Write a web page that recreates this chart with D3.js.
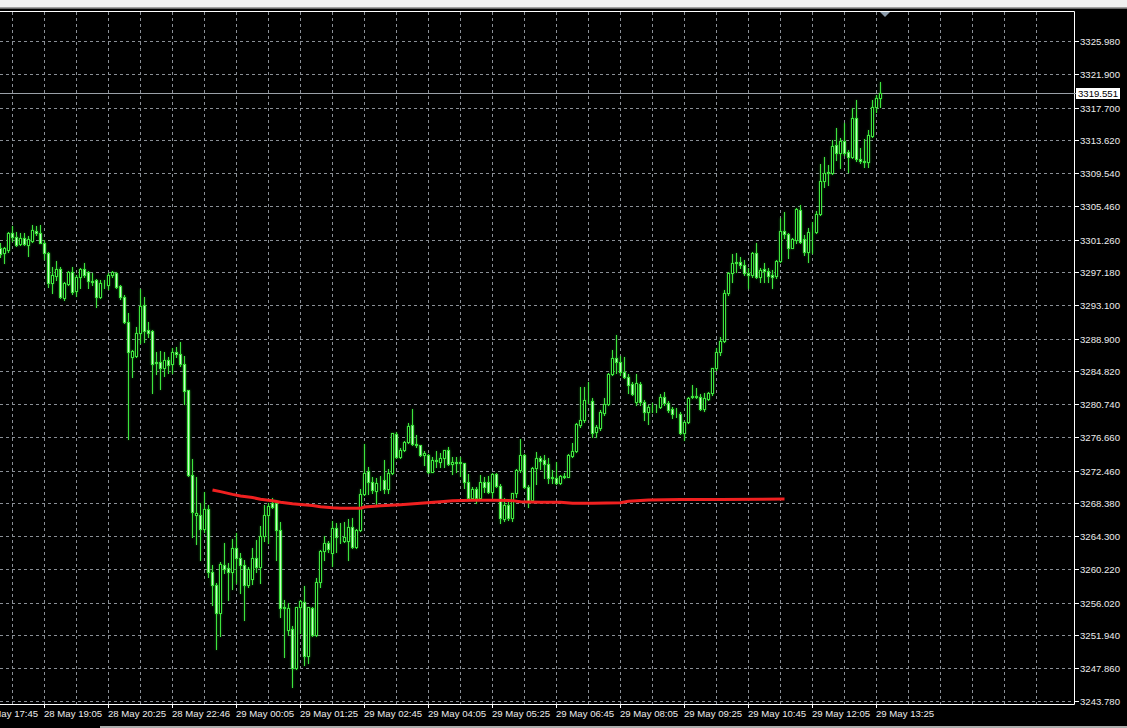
<!DOCTYPE html>
<html><head><meta charset="utf-8">
<script src="https://cdn.jsdelivr.net/npm/d3@7"></script>
<style>html,body{margin:0;padding:0;background:#000;overflow:hidden}svg{display:block}</style>
</head><body><svg id="c" width="1127" height="728"></svg>
<script>
// ---- DATA (XAU M5 bars) ----
const opens=[3300.17,3299.55,3299.96,3302.12,3301.54,3300.71,3301.41,3300.58,3301.12,3302.33,3302.04,3300.87,3299.55,3295.81,3296.72,3297.55,3293.94,3295.68,3297.18,3294.89,3296.55,3297.55,3297.18,3295.97,3296.22,3294.14,3295.81,3295.60,3296.84,3297.13,3295.47,3294.14,3290.94,3286.58,3286.79,3289.57,3293.10,3289.99,3289.87,3285.83,3285.96,3285.21,3286.25,3285.75,3287.20,3286.96,3285.75,3282.51,3271.92,3266.93,3266.93,3265.14,3267.64,3259.87,3258.20,3254.75,3260.70,3260.28,3259.87,3262.86,3261.53,3260.70,3258.20,3258.91,3261.53,3260.41,3264.31,3266.93,3268.38,3268.38,3265.06,3255.30,3252.59,3252.68,3247.82,3255.50,3256.12,3249.35,3255.30,3251.97,3258.54,3262.44,3263.48,3262.23,3265.27,3264.23,3263.73,3263.73,3265.39,3262.90,3265.06,3269.51,3272.46,3271.08,3269.96,3271.00,3271.29,3270.13,3272.21,3277.03,3274.20,3275.03,3275.99,3278.15,3275.78,3275.61,3274.41,3274.41,3272.33,3273.79,3273.58,3274.08,3275.03,3273.29,3273.58,3273.37,3273.37,3271.00,3269.01,3270.17,3269.01,3271.08,3271.08,3269.76,3272.04,3270.59,3266.43,3268.18,3266.51,3269.63,3272.54,3274.41,3270.38,3268.80,3272.75,3273.99,3273.79,3273.29,3271.50,3271.50,3270.96,3271.79,3271.71,3274.28,3274.91,3278.15,3278.78,3281.23,3281.14,3277.24,3277.74,3279.61,3280.73,3284.47,3286.55,3285.96,3284.80,3284.18,3283.22,3280.98,3283.22,3280.98,3279.73,3280.36,3280.40,3280.36,3281.68,3280.85,3280.15,3279.48,3279.48,3277.11,3278.57,3281.68,3281.81,3281.68,3280.15,3281.39,3282.10,3285.22,3287.21,3288.62,3294.56,3297.06,3298.51,3298.51,3298.10,3297.06,3296.85,3299.55,3296.64,3297.55,3297.39,3296.85,3296.73,3298.59,3302.34,3301.92,3300.26,3301.21,3304.95,3301.34,3299.68,3302.17,3302.17,3304.41,3308.57,3309.52,3309.52,3313.05,3312.02,3313.55,3312.22,3311.60,3316.46,3311.31,3311.06,3310.89,3314.22,3317.75,3318.95];
const highs=[3300.79,3300.38,3302.25,3302.95,3302.25,3302.04,3302.04,3301.71,3303.08,3302.95,3303.08,3301.21,3299.75,3297.88,3298.59,3297.88,3296.01,3297.38,3297.88,3296.84,3297.68,3298.38,3297.38,3297.05,3296.30,3296.22,3296.22,3297.05,3297.38,3297.26,3295.60,3294.35,3292.07,3287.50,3290.40,3295.06,3294.06,3291.03,3289.99,3287.29,3287.37,3287.29,3286.58,3287.70,3287.91,3288.45,3286.75,3282.51,3273.87,3271.71,3268.38,3269.84,3268.18,3260.70,3258.41,3261.11,3263.40,3260.99,3263.90,3264.73,3262.15,3261.32,3260.49,3262.77,3263.81,3265.56,3268.18,3268.47,3269.01,3268.80,3266.10,3256.33,3255.92,3253.09,3255.50,3256.33,3258.08,3255.50,3255.50,3259.04,3262.57,3264.35,3263.73,3266.22,3265.97,3265.97,3266.02,3266.39,3266.51,3265.14,3270.13,3275.78,3272.95,3271.62,3271.50,3271.79,3273.79,3272.62,3277.19,3277.32,3275.24,3276.11,3278.44,3280.10,3276.90,3275.66,3274.95,3274.53,3274.20,3274.95,3274.70,3275.03,3275.36,3274.20,3274.20,3274.20,3273.45,3272.00,3270.46,3270.46,3271.92,3271.71,3271.83,3272.21,3272.12,3270.79,3269.01,3268.80,3269.71,3272.62,3276.40,3274.53,3270.67,3272.95,3274.82,3274.28,3274.41,3273.99,3272.54,3273.58,3271.92,3272.12,3274.53,3275.95,3278.36,3282.93,3282.93,3283.55,3281.48,3278.15,3280.02,3281.56,3284.59,3287.50,3289.37,3286.76,3286.67,3284.47,3283.47,3284.51,3283.55,3281.27,3280.65,3280.85,3280.65,3281.98,3282.22,3281.14,3280.44,3280.23,3279.73,3278.69,3281.68,3283.14,3282.72,3281.98,3282.10,3282.31,3285.30,3287.71,3289.16,3294.98,3297.27,3299.43,3299.55,3299.13,3298.72,3297.68,3299.76,3300.80,3297.68,3298.30,3297.76,3297.47,3298.72,3303.91,3304.75,3302.04,3301.42,3305.24,3305.58,3301.84,3302.67,3303.50,3304.83,3310.65,3311.60,3310.56,3313.68,3315.13,3313.89,3315.76,3312.43,3317.71,3318.66,3312.72,3313.80,3314.92,3318.66,3319.29,3320.87];
const lows=[3299.13,3298.38,3299.75,3301.12,3300.46,3300.58,3300.58,3299.21,3301.00,3301.83,3300.79,3298.80,3295.39,3294.64,3296.22,3293.94,3293.73,3295.60,3294.48,3294.23,3295.18,3296.55,3295.18,3295.60,3292.81,3293.94,3295.18,3295.06,3296.64,3295.27,3293.81,3290.82,3276.36,3284.09,3286.58,3288.41,3288.54,3289.16,3282.10,3284.50,3282.59,3284.25,3284.59,3284.59,3286.58,3285.50,3280.72,3271.79,3264.14,3263.31,3261.32,3264.85,3259.16,3255.71,3250.19,3251.85,3259.66,3256.33,3257.66,3258.41,3257.25,3253.84,3257.99,3258.33,3259.87,3258.41,3263.73,3263.48,3267.76,3261.32,3254.26,3249.19,3251.97,3245.45,3247.69,3252.18,3248.23,3248.44,3251.85,3251.85,3257.99,3261.32,3262.36,3260.57,3262.32,3263.40,3263.61,3261.32,3262.78,3262.78,3264.94,3269.42,3269.55,3269.63,3268.18,3270.05,3269.63,3269.63,3272.04,3273.99,3273.99,3274.95,3275.86,3275.66,3275.36,3274.28,3273.16,3272.21,3272.25,3272.95,3272.95,3272.95,3273.16,3272.04,3272.33,3271.83,3270.25,3268.80,3268.80,3268.38,3268.80,3269.84,3269.63,3269.21,3270.46,3265.97,3266.22,3266.30,3266.22,3269.21,3272.33,3270.25,3267.97,3268.72,3270.79,3272.62,3271.50,3270.88,3270.88,3270.79,3270.79,3271.50,3271.62,3274.20,3274.82,3277.94,3278.57,3280.85,3276.70,3276.70,3277.53,3279.40,3280.65,3284.38,3284.59,3284.38,3283.97,3282.10,3281.89,3280.65,3280.65,3278.78,3278.24,3279.73,3279.81,3280.23,3280.65,3279.73,3279.07,3279.19,3276.99,3276.28,3278.36,3281.48,3281.56,3280.02,3279.90,3281.27,3281.89,3285.01,3286.88,3288.54,3294.36,3296.02,3297.27,3297.68,3296.85,3295.19,3296.64,3296.43,3296.02,3296.02,3296.02,3295.19,3296.43,3298.51,3301.42,3299.01,3300.17,3300.80,3300.88,3299.34,3298.51,3299.55,3302.04,3304.33,3307.86,3308.07,3309.40,3311.19,3310.15,3311.81,3309.73,3311.39,3311.06,3310.77,3310.35,3310.35,3314.09,3317.21,3317.83];
const closes=[3299.46,3300.17,3302.04,3301.62,3300.58,3301.41,3300.71,3301.29,3302.45,3302.04,3300.87,3299.55,3295.81,3296.84,3297.55,3294.06,3295.81,3297.18,3294.77,3296.64,3297.55,3296.84,3296.14,3296.10,3294.06,3295.81,3295.89,3296.84,3297.18,3295.39,3294.06,3290.94,3287.29,3287.37,3289.57,3292.98,3289.91,3289.66,3285.71,3285.96,3285.21,3286.25,3285.63,3287.20,3286.96,3285.71,3282.43,3271.92,3267.26,3267.22,3265.14,3267.68,3259.87,3258.20,3254.67,3260.82,3260.16,3259.87,3262.77,3261.53,3260.70,3258.20,3260.16,3261.53,3260.41,3264.31,3266.93,3268.05,3267.97,3265.06,3255.30,3255.50,3255.38,3247.82,3255.42,3256.25,3249.35,3255.42,3251.97,3258.54,3262.44,3263.48,3262.65,3265.27,3264.23,3264.15,3264.23,3265.39,3262.90,3265.06,3269.51,3272.21,3271.08,3270.05,3270.96,3271.08,3270.13,3272.21,3277.11,3274.20,3275.03,3275.99,3278.02,3275.78,3275.61,3274.41,3274.62,3272.33,3273.79,3273.70,3274.08,3275.03,3273.29,3273.54,3273.37,3273.54,3271.00,3269.01,3270.17,3269.01,3271.08,3270.46,3269.84,3272.04,3270.59,3266.51,3268.18,3266.51,3269.63,3272.54,3274.41,3270.38,3268.72,3272.75,3273.99,3273.70,3273.29,3271.50,3271.71,3270.96,3271.79,3271.71,3274.41,3274.91,3278.23,3278.77,3281.27,3281.27,3277.11,3277.95,3279.73,3280.73,3284.47,3286.55,3285.96,3284.72,3284.18,3283.14,3281.98,3283.35,3280.98,3279.73,3280.44,3280.40,3280.36,3281.68,3280.85,3280.02,3279.48,3279.52,3277.11,3278.57,3281.56,3281.81,3281.68,3280.15,3281.48,3282.10,3285.22,3287.21,3288.62,3294.56,3297.06,3298.30,3298.30,3298.10,3297.06,3296.85,3299.55,3296.64,3297.47,3297.39,3296.73,3296.64,3298.59,3302.34,3301.92,3300.26,3301.34,3305.08,3301.00,3299.68,3302.17,3302.22,3304.41,3308.57,3309.52,3309.73,3312.93,3312.02,3313.55,3312.02,3311.60,3316.46,3311.31,3311.06,3310.89,3314.30,3317.75,3318.95,3319.55];
// moving-average line (bar index, value)
const maIndex=[53,55,58,60,62,63,65,68,70,73,75,78,80,83,85,90,91,95,100,105,110,113,118,123,128,130,135,140,143,148,155,157,162,170,180,190,196];
const maValues=[3270.05,3269.84,3269.50,3269.30,3269.17,3269.10,3268.89,3268.70,3268.52,3268.32,3268.24,3268.12,3267.97,3267.82,3267.77,3267.77,3267.93,3268.09,3268.22,3268.39,3268.59,3268.72,3268.77,3268.77,3268.72,3268.59,3268.52,3268.52,3268.39,3268.39,3268.45,3268.65,3268.80,3268.85,3268.85,3268.90,3268.93];
const priceTicks=[3325.980,3321.900,3317.700,3313.620,3309.540,3305.460,3301.260,3297.180,3293.100,3288.900,3284.820,3280.740,3276.660,3272.460,3268.380,3264.300,3260.220,3256.020,3251.940,3247.860,3243.780];
const timeTickIndex=[-5,11,27,43,59,75,91,107,123,139,155,171,187,203,219];
const timeTickLabels=["28 May 17:45","28 May 19:05","28 May 20:25","28 May 22:46","29 May 00:05","29 May 01:25","29 May 02:45","29 May 04:05","29 May 05:25","29 May 06:45","29 May 08:05","29 May 09:25","29 May 10:45","29 May 12:05","29 May 13:25"];
const currentPrice=3319.551;

// ---- DRAW ----
const W=1127,H=728, plotR=1074, plotT=11, plotB=704;
const svg=d3.select("#c");
const x=d3.scaleLinear().domain([0,220]).range([0.5,880.5]);
const y=d3.scaleLinear().domain([3243.78,3325.98]).range([700.7,41.3]);
const py=v=>Math.round(y(v))+0.5;
const font="'Liberation Sans', Arial, sans-serif";
const gridCol="#8a8f96";

const defs=svg.append("defs");
const f=defs.append("filter").attr("id","glow").attr("x","-50%").attr("y","-5%").attr("width","200%").attr("height","110%");
f.append("feGaussianBlur").attr("in","SourceAlpha").attr("stdDeviation",0.8).attr("result","b");
f.append("feFlood").attr("flood-color","#1f9a1f").attr("flood-opacity",0.85);
f.append("feComposite").attr("in2","b").attr("operator","in").attr("result","g");
const fm=f.append("feMerge"); fm.append("feMergeNode").attr("in","g"); fm.append("feMergeNode").attr("in","SourceGraphic");

svg.append("rect").attr("width",W).attr("height",H).attr("fill","#000");
// header band
svg.append("rect").attr("x",0).attr("y",0).attr("width",W).attr("height",7).attr("fill","#f0f0f0");
svg.append("rect").attr("x",0).attr("y",7).attr("width",W).attr("height",1).attr("fill","#a0a0a0");
svg.append("rect").attr("x",0).attr("y",8).attr("width",W).attr("height",1).attr("fill","#696969");

const g=svg.append("g");
// vertical grid
const vIdx=d3.range(3,266,8);
g.selectAll("line.vg").data(vIdx).join("line")
 .attr("x1",d=>x(d)).attr("x2",d=>x(d)).attr("y1",plotT+1).attr("y2",plotB)
 .attr("stroke",gridCol).attr("stroke-width",1).attr("stroke-dasharray","3,3");
// horizontal grid
g.selectAll("line.hg").data(priceTicks).join("line")
 .attr("x1",0).attr("x2",plotR).attr("y1",d=>py(d)).attr("y2",d=>py(d))
 .attr("stroke",gridCol).attr("stroke-width",1).attr("stroke-dasharray","3,3");

// frame
svg.append("line").attr("x1",0).attr("x2",plotR+0.5).attr("y1",plotT+0.5).attr("y2",plotT+0.5).attr("stroke","#fff");
svg.append("line").attr("x1",0).attr("x2",plotR+0.5).attr("y1",plotB+0.5).attr("y2",plotB+0.5).attr("stroke","#fff");
svg.append("line").attr("x1",plotR+0.5).attr("x2",plotR+0.5).attr("y1",plotT+0.5).attr("y2",plotB+0.5).attr("stroke","#fff");
svg.append("line").attr("x1",100).attr("x2",W).attr("y1",727).attr("y2",727).attr("stroke","#e8e8e8").attr("stroke-width",1.5);

// y axis labels
const ya=svg.append("g");
priceTicks.forEach(v=>{
  ya.append("line").attr("x1",plotR+1).attr("x2",plotR+5).attr("y1",py(v)).attr("y2",py(v)).attr("stroke","#fff");
  ya.append("text").attr("x",1080).attr("y",py(v)+3.5).text(v.toFixed(3))
    .attr("fill","#ececec").attr("font-family",font).attr("font-size","9.6px");
});
// x axis labels
const xa=svg.append("g");
timeTickIndex.forEach((k,i)=>{
  const xx=Math.floor(x(k))+0.5;
  xa.append("line").attr("x1",xx).attr("x2",xx).attr("y1",plotB+1).attr("y2",plotB+4).attr("stroke","#fff");
  xa.append("text").attr("x",xx-0.5).attr("y",717).text(timeTickLabels[i])
    .attr("fill","#ececec").attr("font-family",font).attr("font-size","9.6px");
});

// current price line
svg.append("line").attr("x1",0).attr("x2",plotR+2).attr("y1",py(currentPrice)).attr("y2",py(currentPrice)).attr("stroke","#9aa0a8");

// candles
const bars=d3.range(opens.length);
const cg=svg.append("g").attr("filter","url(#glow)");
const green="#3ee43e", bearFill="#c8ffc8";
cg.selectAll("line.w").data(bars).join("line")
 .attr("x1",k=>x(k)).attr("x2",k=>x(k))
 .attr("y1",k=>Math.round(y(highs[k]))).attr("y2",k=>Math.round(y(lows[k]))+1)
 .attr("stroke",green).attr("stroke-width",1);
cg.selectAll("rect.b").data(bars).join("rect")
 .attr("x",k=>x(k)-1).attr("width",2)
 .attr("y",k=>Math.round(y(Math.max(opens[k],closes[k])))+0.5)
 .attr("height",k=>Math.max(0,Math.round(y(Math.min(opens[k],closes[k])))-Math.round(y(Math.max(opens[k],closes[k])))))
 .attr("fill",k=>closes[k]<opens[k]?bearFill:"#000")
 .attr("stroke",green).attr("stroke-width",1);

// MA line
svg.append("path").datum(maIndex.map((k,i)=>[k,maValues[i]]))
 .attr("d",d3.line().x(d=>x(d[0])).y(d=>y(d[1])))
 .attr("fill","none").attr("stroke","#f02020").attr("stroke-width",3).attr("stroke-linejoin","round");

// price label box
const cy=py(currentPrice);
svg.append("rect").attr("x",1076).attr("y",cy-5.5).attr("width",44).attr("height",11).attr("fill","#fff");
svg.append("text").attr("x",1078).attr("y",cy+3.5).text(currentPrice.toFixed(3))
  .attr("fill","#000").attr("font-family",font).attr("font-size","9.6px");

// shift marker triangle
svg.append("path").attr("d","M880,12 L890,12 L885,17 Z").attr("fill","#8a9aaa");
</script></body></html>
